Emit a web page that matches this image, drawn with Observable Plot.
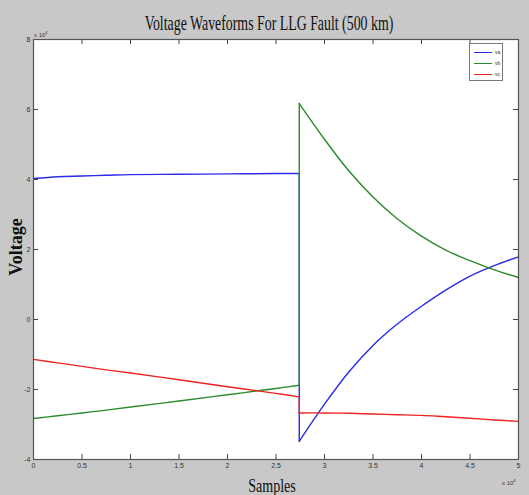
<!DOCTYPE html>
<html><head><meta charset="utf-8">
<script src="https://cdn.jsdelivr.net/npm/d3@7"></script>
<script src="https://cdn.jsdelivr.net/npm/@observablehq/plot@0.6"></script>
<style>
body{margin:0;background:#c8c8c8;}
#wrap{position:relative;width:529px;height:495px;background:#c8c8c8;overflow:hidden}
#wrap svg{position:absolute;left:0;top:0}
.t{position:absolute;font-family:"Liberation Serif",serif;color:#111;white-space:nowrap;line-height:1}
.s{position:absolute;font-family:"Liberation Sans",sans-serif;color:#333;font-size:6px;white-space:nowrap;line-height:1}
#legend{position:absolute;left:469px;top:43px;width:34px;height:38px;background:#fff;border:1px solid #777;box-sizing:border-box}
.li{position:absolute;left:4px;height:0;width:18px}
.ll{position:absolute;left:25px;font-family:"Liberation Sans",sans-serif;font-size:5px;color:#333;line-height:1}
</style></head><body><div id="wrap"></div>
<script>
// x in units of 10^4 samples, voltage in units of 10^4
const seriesNames = ["va", "vb", "vc"];
const seriesColors = ["#2a2ae8", "#2a8a2a", "#ee2222"];
const xTicks = [0, 0.5, 1, 1.5, 2, 2.5, 3, 3.5, 4, 4.5, 5];
const yTicks = [-4, -2, 0, 2, 4, 6, 8];

const xPre = [0, 0.25, 0.5, 0.75, 1.0, 1.5, 2.0, 2.5, 2.74];
const vaPre = [4.03, 4.08, 4.10, 4.12, 4.14, 4.15, 4.16, 4.17, 4.17];
const vbPre = [-2.83, -2.75, -2.67, -2.59, -2.50, -2.33, -2.15, -1.97, -1.88];
const vcPre = [-1.14, -1.24, -1.34, -1.44, -1.53, -1.72, -1.92, -2.11, -2.21];

const xPost = [2.74, 3.0, 3.25, 3.5, 3.75, 4.0, 4.25, 4.5, 4.75, 5.0];
const vaPost = [-3.48, -2.42, -1.50, -0.74, -0.13, 0.38, 0.84, 1.24, 1.54, 1.79];
const vbPost = [6.17, 5.15, 4.25, 3.50, 2.88, 2.38, 1.98, 1.68, 1.42, 1.20];
const vcPost = [-2.67, -2.67, -2.68, -2.70, -2.72, -2.74, -2.78, -2.82, -2.87, -2.91];

const pre = [vaPre, vbPre, vcPre];
const post = [vaPost, vbPost, vcPost];
const rows = [];
seriesNames.forEach((s, i) => {
  xPre.forEach((x, j) => rows.push({series: s, seg: s + "-pre", x, v: pre[i][j]}));
  rows.push({series: s, seg: s + "-jump", x: xPre[xPre.length - 1], v: pre[i][pre[i].length - 1]});
  rows.push({series: s, seg: s + "-jump", x: xPost[0], v: post[i][0]});
  xPost.forEach((x, j) => rows.push({series: s, seg: s + "-post", x, v: post[i][j]}));
});

const W = 529, H = 495, mL = 33, mR = 11, mT = 39, mB = 36;
const pxX = (5 - 0) / (W - mL - mR), pxY = (8 - -4) / (H - mT - mB);
const tl = 5;
const axisColor = "#444";

const chart = Plot.plot({
  width: W, height: H,
  marginLeft: mL, marginRight: mR, marginTop: mT, marginBottom: mB,
  style: {background: "transparent", fontFamily: "Liberation Sans, sans-serif"},
  x: {domain: [0, 5]},
  y: {domain: [-4, 8]},
  color: {domain: seriesNames, range: seriesColors},
  marks: [
    Plot.frame({fill: "white", stroke: "none"}),
    Plot.ruleX(xTicks.slice(1, -1), {x: d => d, y1: -4, y2: -4 + tl * pxY, stroke: axisColor}),
    Plot.ruleX(xTicks.slice(1, -1), {x: d => d, y1: 8, y2: 8 - tl * pxY, stroke: axisColor}),
    Plot.ruleY(yTicks.slice(1, -1), {y: d => d, x1: 0, x2: tl * pxX, stroke: axisColor}),
    Plot.ruleY(yTicks.slice(1, -1), {y: d => d, x1: 5, x2: 5 - tl * pxX, stroke: axisColor}),
    Plot.line(rows, {x: "x", y: "v", z: "seg", stroke: "series", curve: "catmull-rom", strokeWidth: 1.4}),
    Plot.frame({stroke: "#555", strokeWidth: 1.2}),
    Plot.axisX(xTicks, {anchor: "bottom", tickSize: 0, tickPadding: 4, fontSize: 7, fill: "#333", tickFormat: d => String(d), label: null}),
    Plot.axisY(yTicks, {anchor: "left", tickSize: 0, tickPadding: 3, fontSize: 7, fill: "#333", tickFormat: d => String(d), label: null})
  ]
});
const wrap = document.getElementById("wrap");
wrap.appendChild(chart);

function addText(cls, txt, style) {
  const d = document.createElement("div");
  d.className = cls;
  d.innerHTML = txt;
  Object.assign(d.style, style);
  wrap.appendChild(d);
  return d;
}
addText("t", "Voltage Waveforms For LLG Fault (500 km)", {left: "269px", top: "12px", fontSize: "22px", transform: "translateX(-50%) scaleX(0.63)", transformOrigin: "center"});
addText("t", "Samples", {left: "272px", top: "476px", fontSize: "19px", transform: "translateX(-50%) scaleX(0.74)"});
addText("t", "Voltage", {left: "16px", top: "247px", fontSize: "18px", fontWeight: "bold", transform: "translate(-50%,-50%) rotate(-90deg)"});
addText("s", "x 10<sup style='font-size:4px'>4</sup>", {left: "34px", top: "31px"});
addText("s", "x 10<sup style='font-size:4px'>4</sup>", {left: "502px", top: "479px"});

const lg = document.createElement("div");
lg.id = "legend";
seriesNames.forEach((s, i) => {
  const l = document.createElement("div");
  l.className = "li";
  l.style.top = (8 + i * 11) + "px";
  l.style.borderTop = "1.5px solid " + seriesColors[i];
  lg.appendChild(l);
  const t = document.createElement("div");
  t.className = "ll";
  t.style.top = (6 + i * 11) + "px";
  t.textContent = s;
  lg.appendChild(t);
});
wrap.appendChild(lg);
</script></body></html>
